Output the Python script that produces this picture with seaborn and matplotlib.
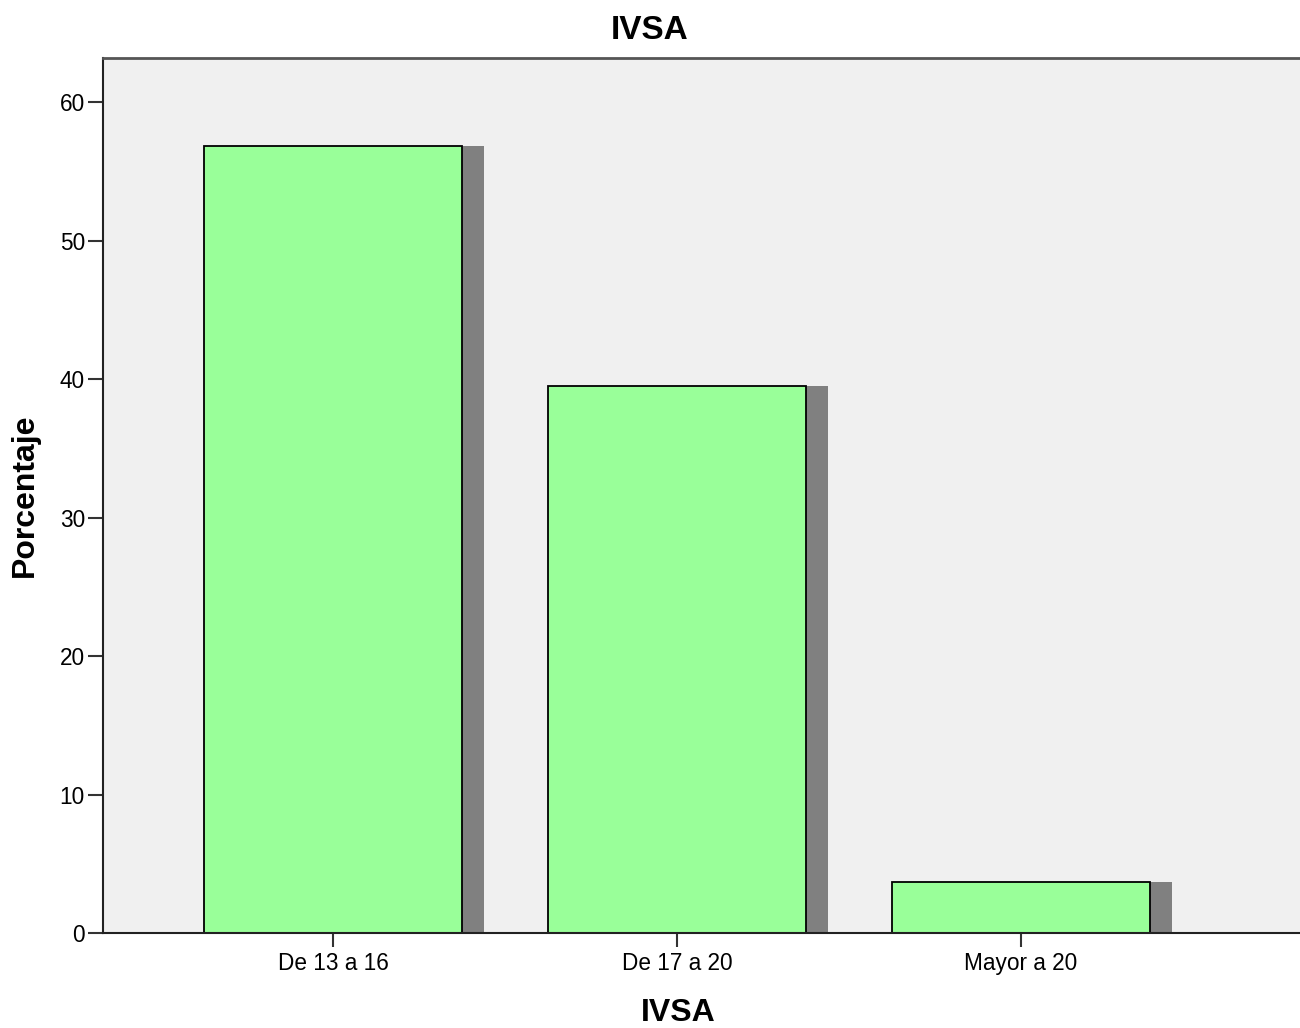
import numpy as np
import pandas as pd
import matplotlib
matplotlib.use("Agg")
import matplotlib.pyplot as plt
import seaborn as sns

categories = ["De 13 a 16", "De 17 a 20", "Mayor a 20"]
percentages = [56.8, 39.5, 3.7]
y_ticks = [0, 10, 20, 30, 40, 50, 60]

sns.set_theme(style="white")
plt.rcParams["font.family"] = ["Liberation Sans", "DejaVu Sans"]
plt.rcParams["text.color"] = "black"
plt.rcParams["xtick.color"] = "black"
plt.rcParams["ytick.color"] = "black"

df = pd.DataFrame({"IVSA": categories, "Porcentaje": percentages})

fig = plt.figure(figsize=(13, 10.28), dpi=100)
ax = fig.add_axes([0.0792, 0.0924, 0.9208, 0.8512])
ax.set_facecolor("#F0F0F0")

bar_width = 0.75
shadow_offset = 0.064

# drop shadow behind each bar
ax.bar(np.arange(len(categories)) + shadow_offset, df["Porcentaje"], width=bar_width,
       color="#808080", edgecolor="none", zorder=1)

sns.barplot(data=df, x="IVSA", y="Porcentaje", ax=ax, color="#99FF99",
            saturation=1, width=bar_width, edgecolor="#000000", linewidth=1.3,
            zorder=2)

ax.set_xlim(-0.669, 2.811)
ax.set_ylim(0, 63.18)
ax.set_yticks(y_ticks)
ax.set_yticklabels([str(t) for t in y_ticks])
ax.tick_params(axis="x", labelsize=16.3, direction="out", length=10, width=1.5,
               color="#333333", bottom=True, pad=4, labelcolor="black")
ax.tick_params(axis="y", labelsize=16.3, direction="out", length=11, width=1.5,
               color="#333333", left=True, pad=2, labelcolor="black")

for side in ["left", "bottom"]:
    ax.spines[side].set_color("#222222")
    ax.spines[side].set_linewidth(1.5)
ax.spines["top"].set_color("#555555")
ax.spines["top"].set_linewidth(2)
ax.spines["right"].set_visible(False)

ax.set_xlabel("")
ax.set_ylabel("")
fig.text(0.0195, 0.5185, "Porcentaje", fontsize=23, fontweight="bold", rotation=90,
         ha="center", va="center", color="black")
fig.text(0.5215, 0.0146, "IVSA", fontsize=23, fontweight="bold", ha="center",
         va="center", color="black")
fig.text(0.5, 0.9700, "IVSA", fontsize=24, fontweight="bold", ha="center",
         va="center", color="black")

fig.savefig("out.png", dpi=100, facecolor="white")
